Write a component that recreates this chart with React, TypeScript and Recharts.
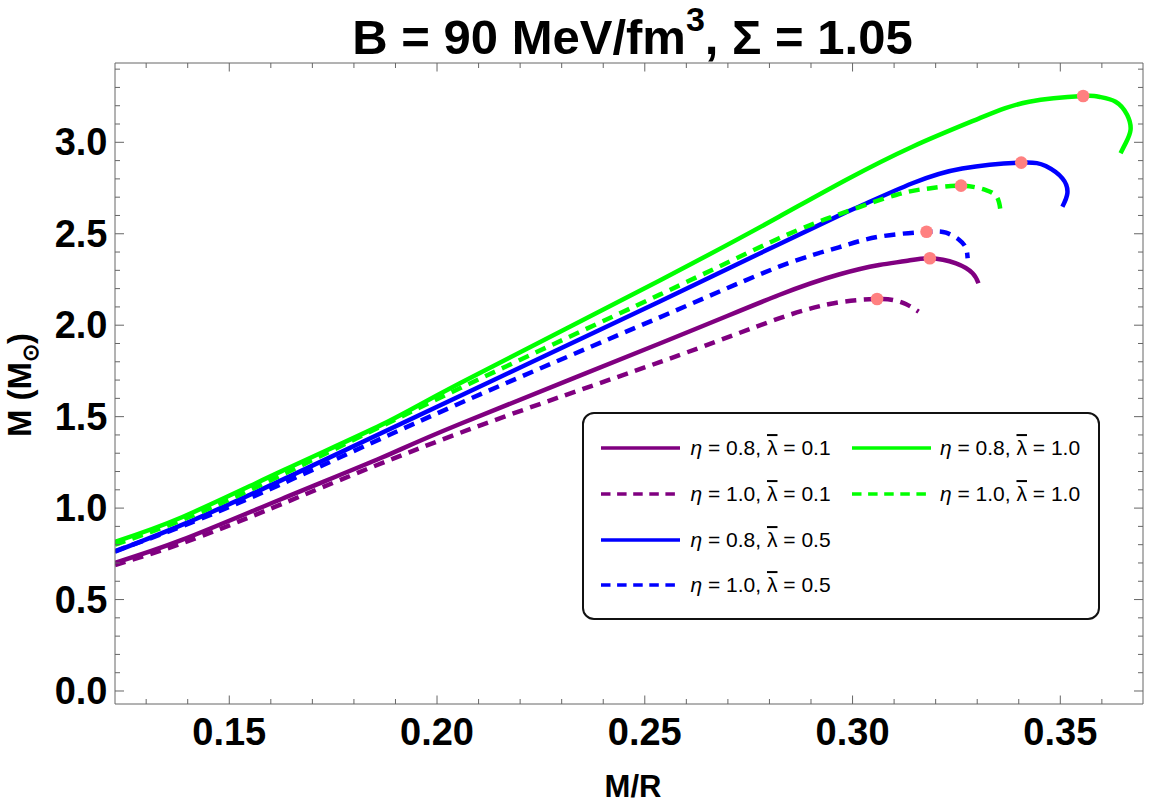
import React from 'react';
import { ComposedChart, Line, Scatter, XAxis, YAxis, Legend } from 'recharts';

type P = { x: number; m: number };

// eta = 0.8, lambda = 0.1
const purpleSolid: P[] = [
  { x: 0.1225, m: 0.701 }, { x: 0.1386, m: 0.826 }, { x: 0.1626, m: 1.050 }, { x: 0.1866, m: 1.275 },
  { x: 0.2055, m: 1.460 }, { x: 0.2536, m: 1.900 }, { x: 0.2823, m: 2.165 }, { x: 0.2967, m: 2.277 },
  { x: 0.3064, m: 2.329 }, { x: 0.3128, m: 2.351 }, { x: 0.3186, m: 2.366 }, { x: 0.3249, m: 2.338 },
  { x: 0.3289, m: 2.284 }, { x: 0.3303, m: 2.229 },
];
// eta = 1.0, lambda = 0.1
const purpleDashed: P[] = [
  { x: 0.1225, m: 0.689 }, { x: 0.1386, m: 0.807 }, { x: 0.1626, m: 1.022 }, { x: 0.2055, m: 1.411 },
  { x: 0.2536, m: 1.798 }, { x: 0.2823, m: 2.037 }, { x: 0.2967, m: 2.125 }, { x: 0.3059, m: 2.143 },
  { x: 0.3097, m: 2.138 }, { x: 0.3128, m: 2.116 }, { x: 0.3159, m: 2.074 },
];
// eta = 0.8, lambda = 0.5
const blueSolid: P[] = [
  { x: 0.1225, m: 0.762 }, { x: 0.1386, m: 0.908 }, { x: 0.1626, m: 1.153 }, { x: 0.2055, m: 1.613 },
  { x: 0.2536, m: 2.130 }, { x: 0.2823, m: 2.443 }, { x: 0.2967, m: 2.599 }, { x: 0.3024, m: 2.657 },
  { x: 0.3144, m: 2.776 }, { x: 0.3264, m: 2.857 }, { x: 0.3406, m: 2.889 }, { x: 0.3465, m: 2.870 },
  { x: 0.3505, m: 2.803 }, { x: 0.3517, m: 2.721 }, { x: 0.3505, m: 2.648 },
];
// eta = 1.0, lambda = 0.5
const blueDashed: P[] = [
  { x: 0.1225, m: 0.765 }, { x: 0.1386, m: 0.900 }, { x: 0.1626, m: 1.132 }, { x: 0.2055, m: 1.573 },
  { x: 0.2536, m: 2.043 }, { x: 0.2823, m: 2.320 }, { x: 0.2967, m: 2.426 }, { x: 0.3064, m: 2.484 },
  { x: 0.3178, m: 2.511 }, { x: 0.3225, m: 2.506 }, { x: 0.3257, m: 2.466 }, { x: 0.3273, m: 2.420 },
  { x: 0.3277, m: 2.366 },
];
// eta = 0.8, lambda = 1.0
const greenSolid: P[] = [
  { x: 0.1225, m: 0.816 }, { x: 0.1386, m: 0.950 }, { x: 0.1626, m: 1.202 }, { x: 0.1866, m: 1.455 },
  { x: 0.2055, m: 1.682 }, { x: 0.2536, m: 2.245 }, { x: 0.2823, m: 2.593 }, { x: 0.2984, m: 2.794 },
  { x: 0.3144, m: 2.976 }, { x: 0.3305, m: 3.131 }, { x: 0.3425, m: 3.222 }, { x: 0.3555, m: 3.253 },
  { x: 0.3593, m: 3.249 }, { x: 0.3633, m: 3.222 }, { x: 0.3661, m: 3.149 }, { x: 0.3669, m: 3.067 },
  { x: 0.3657, m: 2.994 }, { x: 0.3645, m: 2.940 },
];
// eta = 1.0, lambda = 1.0
const greenDashed: P[] = [
  { x: 0.1225, m: 0.800 }, { x: 0.1386, m: 0.935 }, { x: 0.1626, m: 1.181 }, { x: 0.2055, m: 1.655 },
  { x: 0.2536, m: 2.167 }, { x: 0.2823, m: 2.475 }, { x: 0.2967, m: 2.606 }, { x: 0.3104, m: 2.712 },
  { x: 0.3184, m: 2.748 }, { x: 0.3261, m: 2.763 }, { x: 0.3321, m: 2.739 }, { x: 0.3349, m: 2.694 },
  { x: 0.3357, m: 2.603 },
];

const maxPoints: P[] = [
  { x: 0.3555, m: 3.253 }, { x: 0.3406, m: 2.889 }, { x: 0.3261, m: 2.763 },
  { x: 0.3178, m: 2.511 }, { x: 0.3186, m: 2.366 }, { x: 0.3059, m: 2.143 },
];

const frameData: P[] = [{ x: 0.2, m: 1.0 }, { x: 0.3, m: 2.0 }];

const xTicks = [0.13, 0.14, 0.15, 0.16, 0.17, 0.18, 0.19, 0.2, 0.21, 0.22, 0.23, 0.24, 0.25, 0.26, 0.27, 0.28, 0.29, 0.3, 0.31, 0.32, 0.33, 0.34, 0.35, 0.36];
const yTicks = [0, 0.1, 0.2, 0.3, 0.4, 0.5, 0.6, 0.7, 0.8, 0.9, 1.0, 1.1, 1.2, 1.3, 1.4, 1.5, 1.6, 1.7, 1.8, 1.9, 2.0, 2.1, 2.2, 2.3, 2.4, 2.5, 2.6, 2.7, 2.8, 2.9, 3.0, 3.1, 3.2, 3.3, 3.4];

const etaLabels = ['0.8', '1.0', '0.8', '1.0', '0.8', '1.0'];
const lambdaLabels = ['0.1', '0.1', '0.5', '0.5', '1.0', '1.0'];
const seriesColors = ['#800080', '#800080', '#0000FF', '#0000FF', '#00FF00', '#00FF00'];
const seriesDashed = [false, true, false, true, false, true];
const seriesData = [purpleSolid, purpleDashed, blueSolid, blueDashed, greenSolid, greenDashed];

const FONT = "'Liberation Sans', Arial, Helvetica, sans-serif";
const AXIS = '#666666';
const X_DOMAIN: [number, number] = [0.1225, 0.3699];
const Y_DOMAIN: [number, number] = [-0.0711, 3.4336];

const isMajorX = (v: number) => Math.abs(v * 20 - Math.round(v * 20)) < 1e-6;
const isMajorY = (v: number) => Math.abs(v * 2 - Math.round(v * 2)) < 1e-6;

const BottomTick = (props: any) => {
  const { x, y, payload } = props;
  const v = payload.value as number;
  const major = isMajorX(v);
  return (
    <g>
      <line x1={x} x2={x} y1={y} y2={y - (major ? 8.5 : 5)} stroke={AXIS} strokeWidth={1} />
      {major && (
        <text x={x} y={y + 41} textAnchor="middle" fontSize={38} fontWeight="bold" fontFamily={FONT} fill="#000">
          {v.toFixed(2)}
        </text>
      )}
    </g>
  );
};
const TopTick = (props: any) => {
  const { x, y, payload } = props;
  const major = isMajorX(payload.value);
  return <line x1={x} x2={x} y1={y} y2={y + (major ? 8.5 : 5)} stroke={AXIS} strokeWidth={1} />;
};
const LeftTick = (props: any) => {
  const { x, y, payload } = props;
  const v = payload.value as number;
  const major = isMajorY(v);
  return (
    <g>
      <line x1={x} x2={x + (major ? 9 : 5)} y1={y} y2={y} stroke={AXIS} strokeWidth={1} />
      {major && (
        <text x={x - 7.5} y={y + 13} textAnchor="end" fontSize={38} fontWeight="bold" fontFamily={FONT} fill="#000">
          {v.toFixed(1)}
        </text>
      )}
    </g>
  );
};
const RightTick = (props: any) => {
  const { x, y, payload } = props;
  const major = isMajorY(payload.value);
  return <line x1={x} x2={x - (major ? 9 : 5)} y1={y} y2={y} stroke={AXIS} strokeWidth={1} />;
};

const rowCenters = [34, 80, 126, 171];

const LegendBox = () => (
  <div
    style={{
      position: 'relative',
      width: 518,
      height: 208,
      boxSizing: 'border-box',
      border: '2px solid #111',
      borderRadius: 12,
      background: '#fff',
      fontFamily: FONT,
      fontSize: 21,
      color: '#000',
    }}
  >
    {etaLabels.map((eta, i) => {
      const col = i < 4 ? 0 : 1;
      const row = i < 4 ? i : i - 4;
      const cy = rowCenters[row];
      const lineLeft = col === 0 ? 17 : 268;
      const textLeft = col === 0 ? 106.5 : 356;
      return (
        <React.Fragment key={i}>
          <svg width={80} height={8} style={{ position: 'absolute', left: lineLeft, top: cy - 4 }}>
            <line
              x1={0}
              x2={seriesDashed[i] ? 74 : 79}
              y1={4}
              y2={4}
              stroke={seriesColors[i]}
              strokeWidth={3.5}
              strokeDasharray={seriesDashed[i] ? '9.5 6.6' : undefined}
            />
          </svg>
          <div
            style={{
              position: 'absolute',
              left: textLeft,
              top: cy,
              transform: 'translateY(-52%)',
              whiteSpace: 'nowrap',
              lineHeight: 1,
            }}
          >
            <i>η</i> = {eta}, <span style={{ textDecoration: 'overline' }}>λ</span> = {lambdaLabels[i]}
          </div>
        </React.Fragment>
      );
    })}
  </div>
);

const Dot = (props: any) => <circle cx={props.cx} cy={props.cy} r={6.3} fill="#FF8080" />;

export default function App() {
  return (
    <div style={{ position: 'absolute', left: 0, top: 0, width: 1152, height: 805, background: '#fff' }}>
      <ComposedChart width={1152} height={805} margin={{ top: 62, right: 8, bottom: 0, left: 0 }}>
        <XAxis
          xAxisId="bottom"
          dataKey="x"
          type="number"
          domain={X_DOMAIN}
          allowDataOverflow
          ticks={xTicks}
          interval={0}
          tickSize={0}
          tickMargin={0}
          tickLine={false}
          axisLine={{ stroke: AXIS, strokeWidth: 1 }}
          height={101}
          tick={BottomTick}
        />
        <XAxis
          xAxisId="top"
          orientation="top"
          dataKey="x"
          type="number"
          domain={X_DOMAIN}
          allowDataOverflow
          ticks={xTicks}
          interval={0}
          tickSize={0}
          tickMargin={0}
          tickLine={false}
          axisLine={{ stroke: AXIS, strokeWidth: 1 }}
          height={1}
          tick={TopTick}
        />
        <YAxis
          yAxisId="left"
          dataKey="m"
          type="number"
          domain={Y_DOMAIN}
          allowDataOverflow
          ticks={yTicks}
          interval={0}
          tickSize={0}
          tickMargin={0}
          tickLine={false}
          axisLine={{ stroke: AXIS, strokeWidth: 1 }}
          width={115}
          tick={LeftTick}
        />
        <YAxis
          yAxisId="right"
          orientation="right"
          dataKey="m"
          type="number"
          domain={Y_DOMAIN}
          allowDataOverflow
          ticks={yTicks}
          interval={0}
          tickSize={0}
          tickMargin={0}
          tickLine={false}
          axisLine={{ stroke: AXIS, strokeWidth: 1 }}
          width={1}
          tick={RightTick}
        />
        <Line
          xAxisId="top"
          yAxisId="right"
          data={frameData}
          dataKey="m"
          stroke="none"
          dot={false}
          activeDot={false}
          legendType="none"
          isAnimationActive={false}
        />
        {seriesData.map((d, i) => (
          <Line
            key={i}
            xAxisId="bottom"
            yAxisId="left"
            data={d}
            dataKey="m"
            type="natural"
            stroke={seriesColors[i]}
            strokeWidth={4.5}
            strokeDasharray={seriesDashed[i] ? '11 7.5' : undefined}
            strokeLinecap="butt"
            dot={false}
            activeDot={false}
            isAnimationActive={false}
          />
        ))}
        <Scatter
          xAxisId="bottom"
          yAxisId="left"
          data={maxPoints}
          dataKey="m"
          shape={Dot}
          isAnimationActive={false}
        />
        <Legend
          layout="horizontal"
          verticalAlign="middle"
          align="center"
          wrapperStyle={{ left: 582, top: 412, width: 518, height: 208 }}
          content={() => <LegendBox />}
        />
      </ComposedChart>
      <svg
        width={1152}
        height={805}
        style={{ position: 'absolute', left: 0, top: 0, pointerEvents: 'none' }}
        fontFamily={FONT}
      >
        <text x={632.5} y={54} textAnchor="middle" fontSize={49} fontWeight="bold" fill="#000">
          B = 90 MeV/fm<tspan fontSize={34} dy={-23}>3</tspan>
          <tspan dy={23}>, Σ = 1.05</tspan>
        </text>
        <text x={633} y={796.5} textAnchor="middle" fontSize={31} fontWeight="bold" fill="#000">
          M/R
        </text>
        <text transform="translate(30.5,385) rotate(-90)" textAnchor="middle" fontSize={33} fontWeight="bold" fill="#000">
          M (M<tspan fontSize={22} dy={7.5}>⊙</tspan>
          <tspan dy={-7.5}>)</tspan>
        </text>
      </svg>
    </div>
  );
}
